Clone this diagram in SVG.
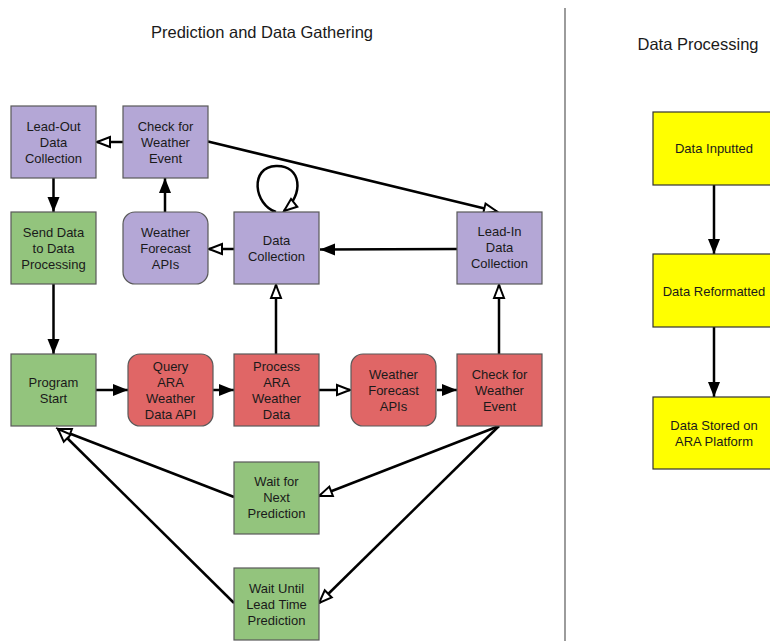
<svg xmlns="http://www.w3.org/2000/svg" width="770" height="641" viewBox="0 0 770 641">
<style>
.t{font-family:"Liberation Sans",Arial,sans-serif;fill:#1a1a1a;text-anchor:middle}
.title{font-size:16.5px}
.lbl{font-size:13px}
.n{stroke:#595959;stroke-width:1.2}
.p{fill:#b4a7d6}.g{fill:#93c47d}.r{fill:#e06666}.y{fill:#ffff00;stroke:#333}
.c{fill:none;stroke:#000;stroke-width:2.5}
.f{marker-end:url(#fill)}
.o{marker-end:url(#open)}
</style>
<defs>
<marker id="fill" markerUnits="userSpaceOnUse" markerWidth="16" markerHeight="13" refX="15" refY="6" orient="auto" overflow="visible">
<path d="M0,0 L15,6 L0,12 z" fill="#000"/>
</marker>
<marker id="open" markerUnits="userSpaceOnUse" markerWidth="16" markerHeight="13" refX="14" refY="5.5" orient="auto" overflow="visible">
<path d="M1,0.5 L14,5.5 L1,10.5 z" fill="#fff" stroke="#000" stroke-width="2"/>
</marker>
</defs>
<rect width="770" height="641" fill="#fff"/>
<text class="t title" x="262" y="38">Prediction and Data Gathering</text>
<text class="t title" x="698" y="50">Data Processing</text>
<line x1="565" y1="8" x2="565" y2="641" stroke="#666" stroke-width="1.3"/>

<g id="connectors">
<line class="c o" x1="123" y1="142" x2="97" y2="142"/>
<line class="c f" x1="53.5" y1="178" x2="53.5" y2="212"/>
<line class="c f" x1="165" y1="212" x2="165" y2="178"/>
<line class="c o" x1="234" y1="249" x2="209" y2="249"/>
<path class="c o" d="M276 212 C254 205 249 167 276 166 C302 165 304 195 284 211"/>
<line class="c o" x1="208" y1="141.5" x2="497" y2="211.5"/>
<line class="c f" x1="457" y1="249" x2="320" y2="249.5"/>
<line class="c o" x1="276" y1="354" x2="276" y2="285"/>
<line class="c o" x1="499" y1="354" x2="499" y2="285"/>
<line class="c f" x1="53.5" y1="284" x2="53.5" y2="354"/>
<line class="c f" x1="96" y1="390" x2="128" y2="390"/>
<line class="c f" x1="213" y1="390" x2="234" y2="390"/>
<line class="c o" x1="319" y1="390" x2="350" y2="390"/>
<line class="c f" x1="437" y1="390" x2="457" y2="390"/>
<line class="c o" x1="499" y1="426" x2="319" y2="496"/>
<line class="c o" x1="499" y1="426" x2="319" y2="603"/>
<line class="c o" x1="234" y1="497" x2="58" y2="429"/>
<line class="c o" x1="234" y1="603" x2="58" y2="429"/>
<line class="c f" x1="714" y1="185" x2="714" y2="254"/>
<line class="c f" x1="714" y1="327" x2="714" y2="397"/>
</g>

<g id="leadout"><rect class="n p" x="11" y="106" width="85" height="72"/>
<text class="t lbl" x="53.5" y="131">Lead-Out</text><text class="t lbl" x="53.5" y="147">Data</text><text class="t lbl" x="53.5" y="163">Collection</text></g>
<g id="check1"><rect class="n p" x="123" y="106" width="85" height="72"/>
<text class="t lbl" x="165.5" y="131">Check for</text><text class="t lbl" x="165.5" y="147">Weather</text><text class="t lbl" x="165.5" y="163">Event</text></g>
<g id="senddata"><rect class="n g" x="11" y="212" width="85" height="72"/>
<text class="t lbl" x="53.5" y="237">Send Data</text><text class="t lbl" x="53.5" y="253">to Data</text><text class="t lbl" x="53.5" y="269">Processing</text></g>
<g id="wfapi1"><rect class="n p" x="123" y="212" width="85" height="72" rx="12"/>
<text class="t lbl" x="165.5" y="237">Weather</text><text class="t lbl" x="165.5" y="253">Forecast</text><text class="t lbl" x="165.5" y="269">APIs</text></g>
<g id="datacollection"><rect class="n p" x="234" y="212" width="85" height="72"/>
<text class="t lbl" x="276.5" y="245">Data</text><text class="t lbl" x="276.5" y="261">Collection</text></g>
<g id="leadin"><rect class="n p" x="457" y="212" width="85" height="72"/>
<text class="t lbl" x="499.5" y="236">Lead-In</text><text class="t lbl" x="499.5" y="252">Data</text><text class="t lbl" x="499.5" y="268">Collection</text></g>

<g id="programstart"><rect class="n g" x="11" y="354" width="85" height="72"/>
<text class="t lbl" x="53.5" y="387">Program</text><text class="t lbl" x="53.5" y="403">Start</text></g>
<g id="query"><rect class="n r" x="128" y="354" width="85" height="72" rx="12"/>
<text class="t lbl" x="170.5" y="371">Query</text><text class="t lbl" x="170.5" y="387">ARA</text><text class="t lbl" x="170.5" y="403">Weather</text><text class="t lbl" x="170.5" y="419">Data API</text></g>
<g id="process"><rect class="n r" x="234" y="354" width="85" height="72"/>
<text class="t lbl" x="276.5" y="371">Process</text><text class="t lbl" x="276.5" y="387">ARA</text><text class="t lbl" x="276.5" y="403">Weather</text><text class="t lbl" x="276.5" y="419">Data</text></g>
<g id="wfapi2"><rect class="n r" x="351" y="354" width="85" height="72" rx="12"/>
<text class="t lbl" x="393.5" y="379">Weather</text><text class="t lbl" x="393.5" y="395">Forecast</text><text class="t lbl" x="393.5" y="411">APIs</text></g>
<g id="check2"><rect class="n r" x="457" y="354" width="85" height="72"/>
<text class="t lbl" x="499.5" y="379">Check for</text><text class="t lbl" x="499.5" y="395">Weather</text><text class="t lbl" x="499.5" y="411">Event</text></g>

<g id="waitnext"><rect class="n g" x="234" y="462" width="85" height="72"/>
<text class="t lbl" x="276.5" y="486">Wait for</text><text class="t lbl" x="276.5" y="502">Next</text><text class="t lbl" x="276.5" y="518">Prediction</text></g>
<g id="waituntil"><rect class="n g" x="234" y="568" width="85" height="72"/>
<text class="t lbl" x="276.5" y="593">Wait Until</text><text class="t lbl" x="276.5" y="609">Lead Time</text><text class="t lbl" x="276.5" y="625">Prediction</text></g>

<g id="inputted"><rect class="y" x="653" y="112" width="122" height="73" stroke-width="1.2"/>
<text class="t lbl" x="714" y="153">Data Inputted</text></g>
<g id="reformatted"><rect class="y" x="653" y="254" width="122" height="73" stroke-width="1.2"/>
<text class="t lbl" x="714" y="296">Data Reformatted</text></g>
<g id="stored"><rect class="y" x="653" y="397" width="122" height="72" stroke-width="1.2"/>
<text class="t lbl" x="714" y="430">Data Stored on</text><text class="t lbl" x="714" y="446">ARA Platform</text></g>
</svg>
